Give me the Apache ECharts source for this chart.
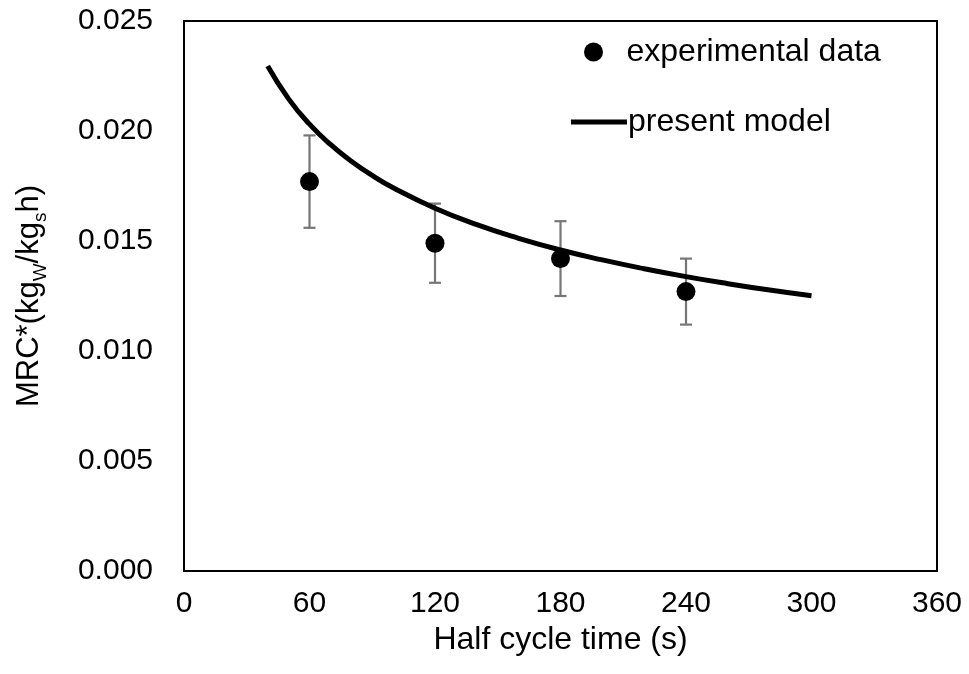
<!DOCTYPE html>
<html>
<head>
<meta charset="utf-8">
<script src="https://cdn.jsdelivr.net/npm/echarts@6/dist/echarts.min.js"></script>
<style>
  html, body { margin: 0; padding: 0; background: #fff; }
  #chart { width: 969px; height: 674px; }
</style>
</head>
<body>
<div id="chart"></div>
<script>
// Measured moisture removal capacity at each half cycle time, with error half-widths
const timeExp = [60, 120, 180, 240];
const mrcExp = [0.0177, 0.0149, 0.0142, 0.0127];
const mrcErr = [0.0021, 0.0018, 0.0017, 0.0015];

// Model prediction curve
const timeModel = [40, 50, 60, 70, 80, 90, 100, 120, 140, 160, 180, 200, 220, 240, 260, 280, 300];
const mrcModel = [0.02295, 0.02146, 0.02031, 0.01939, 0.01863, 0.01798, 0.01742, 0.01649, 0.01574,
                  0.01512, 0.01459, 0.01414, 0.01374, 0.01338, 0.01306, 0.01277, 0.01251];

// Axis ticks
const xTicks = [0, 60, 120, 180, 240, 300, 360];
const yTicks = [0, 0.005, 0.010, 0.015, 0.020, 0.025];

const FONT = '"Liberation Sans", Arial, sans-serif';
const TEXT = '#000';

const chart = echarts.init(document.getElementById('chart'), null, { renderer: 'canvas' });

const expPoints = timeExp.map((t, i) => [t, mrcExp[i]]);
const errData = timeExp.map((t, i) => [t, mrcExp[i] - mrcErr[i], mrcExp[i] + mrcErr[i]]);
const modelPoints = timeModel.map((t, i) => [t, mrcModel[i]]);

chart.setOption({
  animation: false,
  backgroundColor: '#fff',
  textStyle: { fontFamily: FONT, color: TEXT },
  grid: {
    left: 184, right: 32, top: 21, bottom: 103,
    show: true, borderColor: '#000', borderWidth: 2, backgroundColor: 'transparent'
  },
  legend: [
    {
      data: [{ name: 'experimental data', icon: 'circle' }],
      left: 579, top: 31,
      itemWidth: 56, itemHeight: 19,
      itemStyle: { opacity: 1 },
      textStyle: { fontFamily: FONT, fontSize: 32, color: TEXT },
      selectedMode: false
    },
    {
      data: [{ name: 'present model', icon: 'rect' }],
      left: 566, top: 101,
      itemWidth: 56, itemHeight: 5,
      textStyle: { fontFamily: FONT, fontSize: 32, color: TEXT, padding: [0, 0, 0, -4] },
      selectedMode: false
    }
  ],
  xAxis: {
    type: 'value',
    min: xTicks[0], max: xTicks[xTicks.length - 1], interval: 60,
    name: 'Half cycle time (s)',
    nameLocation: 'middle', nameGap: 45,
    nameTextStyle: { fontFamily: FONT, fontSize: 32, color: TEXT },
    axisLine: { show: false },
    axisTick: { show: false },
    splitLine: { show: false },
    axisLabel: { fontFamily: FONT, fontSize: 30, color: TEXT, margin: 18 }
  },
  yAxis: {
    type: 'value',
    min: yTicks[0], max: yTicks[yTicks.length - 1], interval: 0.005,
    name: '{a|MRC*(kg}{s|W}{a|/kg}{s|s}{a|h)}',
    nameLocation: 'middle', nameGap: 134, nameRotate: 90,
    nameTextStyle: {
      fontFamily: FONT, color: TEXT,
      rich: {
        a: { fontFamily: FONT, fontSize: 31, color: TEXT, lineHeight: 36, verticalAlign: 'top' },
        s: { fontFamily: FONT, fontSize: 19, color: TEXT, lineHeight: 19, height: 19, verticalAlign: 'bottom' }
      }
    },
    axisLine: { show: false },
    axisTick: { show: false },
    splitLine: { show: false },
    axisLabel: {
      fontFamily: FONT, fontSize: 30, color: TEXT, margin: 31,
      formatter: v => v.toFixed(3)
    }
  },
  series: [
    {
      name: 'error',
      type: 'custom',
      z: 1,
      silent: true,
      data: errData,
      encode: { x: 0, y: [1, 2] },
      renderItem: function (params, api) {
        const x = api.value(0);
        const lo = api.coord([x, api.value(1)]);
        const hi = api.coord([x, api.value(2)]);
        const half = 6;
        const style = { stroke: '#767676', lineWidth: 2.2, fill: null };
        return {
          type: 'group',
          children: [
            { type: 'line', shape: { x1: lo[0], y1: lo[1], x2: hi[0], y2: hi[1] }, style },
            { type: 'line', shape: { x1: hi[0] - half, y1: hi[1], x2: hi[0] + half, y2: hi[1] }, style },
            { type: 'line', shape: { x1: lo[0] - half, y1: lo[1], x2: lo[0] + half, y2: lo[1] }, style }
          ]
        };
      }
    },
    {
      name: 'experimental data',
      type: 'scatter',
      z: 2,
      symbol: 'circle',
      symbolSize: 19,
      itemStyle: { color: '#000', opacity: 1 },
      data: expPoints
    },
    {
      name: 'present model',
      type: 'line',
      z: 3,
      smooth: true,
      symbol: 'none',
      showSymbol: false,
      lineStyle: { color: '#000', width: 5 },
      itemStyle: { color: '#000' },
      data: modelPoints
    }
  ]
});
</script>
</body>
</html>
